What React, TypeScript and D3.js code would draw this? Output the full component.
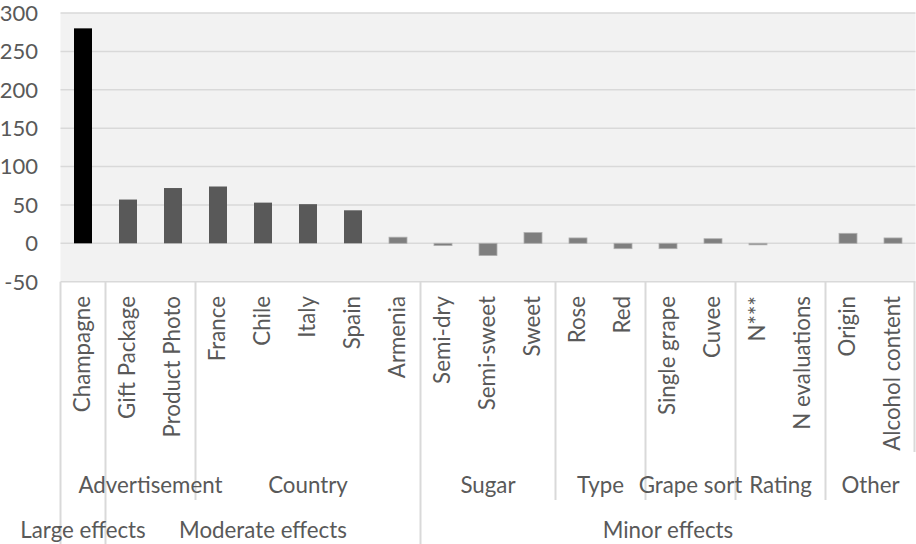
import React from "react";
import * as d3 from "d3";

// Effect sizes per product attribute
const categories = [
  "Champagne",
  "Gift Package",
  "Product Photo",
  "France",
  "Chile",
  "Italy",
  "Spain",
  "Armenia",
  "Semi-dry",
  "Semi-sweet",
  "Sweet",
  "Rose",
  "Red",
  "Single grape",
  "Cuvee",
  "N***",
  "N evaluations",
  "Origin",
  "Alcohol content",
];
const effects = [280, 57, 72, 74, 53, 51, 43, 8, -3, -16, 14, 7, -7, -7, 6, -2, 0, 13, 7];
// bar shade tier: 0 = large, 1 = moderate, 2 = minor
const barTiers = [0, 1, 1, 1, 1, 1, 1, 2, 2, 2, 2, 2, 2, 2, 2, 2, 2, 2, 2];
const tierColors = ["#000000", "#595959", "#7f7f7f"];

// Second-level grouping (attribute family)
const factorGroups = ["", "Advertisement", "Country", "Sugar", "Type", "Grape sort", "Rating", "Other"];
const factorGroupSizes = [1, 2, 5, 3, 2, 2, 2, 2];

// Third-level grouping (effect magnitude)
const effectGroups = ["Large effects", "Moderate effects", "Minor effects"];
const effectGroupSizes = [1, 7, 11];

const yTicks = [-50, 0, 50, 100, 150, 200, 250, 300];

const W = 916;
const H = 544;
const plotLeft = 60.5;
const plotRight = 915.5;
const plotTop = 13;
const plotBottom = 281.7;
const level2Bottom = 500;
const level1Bottom = 452;
const FONT = "Lato, 'Liberation Sans', sans-serif";
const TEXT = "#595959";
const GRID = "#d9d9d9";
const LABEL_SIZE = 22.3;

function spans(sizes: number[]) {
  const out: { start: number; end: number }[] = [];
  let i = 0;
  for (const s of sizes) {
    out.push({ start: i, end: i + s - 1 });
    i += s;
  }
  return out;
}

export default function App() {
  const x = d3
    .scaleBand<string>()
    .domain(categories)
    .range([plotLeft, plotRight])
    .paddingInner(0.6)
    .paddingOuter(0.3);
  const step = x.step();
  const y = d3.scaleLinear().domain([-50, 300]).range([plotBottom, plotTop]);

  const bandLeft = (i: number) => plotLeft + i * step;
  const bandRight = (i: number) => plotLeft + (i + 1) * step;

  const effSpans = spans(effectGroupSizes);
  const facSpans = spans(factorGroupSizes);

  // boundaries between groups
  const effBounds = effSpans.map((s) => s.start);
  const facBounds = facSpans.map((s) => s.start).filter((b) => !effBounds.includes(b));

  return (
    <svg
      width={W}
      height={H}
      style={{ position: "fixed", left: 0, top: 0, background: "#ffffff" }}
      fontFamily={FONT}
    >
      <rect x={plotLeft} y={plotTop} width={plotRight - plotLeft} height={plotBottom - plotTop} fill="#f2f2f2" />
      {yTicks.map((t) => (
        <g key={t}>
          <line x1={plotLeft} x2={plotRight} y1={y(t)} y2={y(t)} stroke={GRID} strokeWidth={1.5} />
          <text x={38} y={y(t)} dy="0.36em" textAnchor="end" fontSize={22} fill={TEXT}>
            {t}
          </text>
        </g>
      ))}

      {categories.map((c, i) => {
        const v = effects[i];
        const y0 = y(0);
        const y1 = y(v);
        const tier = barTiers[i];
        return (
          <rect
            key={c}
            x={x(c)}
            y={Math.min(y0, y1)}
            width={x.bandwidth()}
            height={Math.max(Math.abs(y1 - y0), v === 0 ? 0 : 1)}
            fill={tierColors[tier]}
            stroke={tier === 2 ? "#b0b0b0" : "none"}
            strokeWidth={tier === 2 ? 0.8 : 0}
          />
        );
      })}

      {/* category labels */}
      {categories.map((c) => {
        const cx = (x(c) as number) + x.bandwidth() / 2;
        return (
          <text
            key={c}
            transform={`translate(${cx},296) rotate(-90)`}
            textAnchor="end"
            dy="0.33em"
            fontSize={LABEL_SIZE}
            fill={TEXT}
          >
            {c}
          </text>
        );
      })}

      {/* group separators */}
      {effBounds.map((b) => (
        <line key={"e" + b} x1={bandLeft(b)} x2={bandLeft(b)} y1={plotBottom} y2={H} stroke={GRID} strokeWidth={2} />
      ))}
      {facBounds.map((b) => (
        <line key={"f" + b} x1={bandLeft(b)} x2={bandLeft(b)} y1={plotBottom} y2={level2Bottom} stroke={GRID} strokeWidth={2} />
      ))}
      <line
        x1={bandRight(categories.length - 1) - 1}
        x2={bandRight(categories.length - 1) - 1}
        y1={plotBottom}
        y2={level1Bottom}
        stroke={GRID}
        strokeWidth={2}
      />

      {/* second-level labels */}
      {factorGroups.map((g, k) => {
        const s = facSpans[k];
        const cx = (bandLeft(s.start) + bandRight(s.end)) / 2;
        return (
          <text key={"fg" + k} x={cx} y={493} textAnchor="middle" fontSize={LABEL_SIZE} fill={TEXT}>
            {g}
          </text>
        );
      })}

      {/* third-level labels */}
      {effectGroups.map((g, k) => {
        const s = effSpans[k];
        const cx = (bandLeft(s.start) + bandRight(s.end)) / 2;
        return (
          <text key={"eg" + k} x={cx} y={538} textAnchor="middle" fontSize={LABEL_SIZE} fill={TEXT}>
            {g}
          </text>
        );
      })}
    </svg>
  );
}
